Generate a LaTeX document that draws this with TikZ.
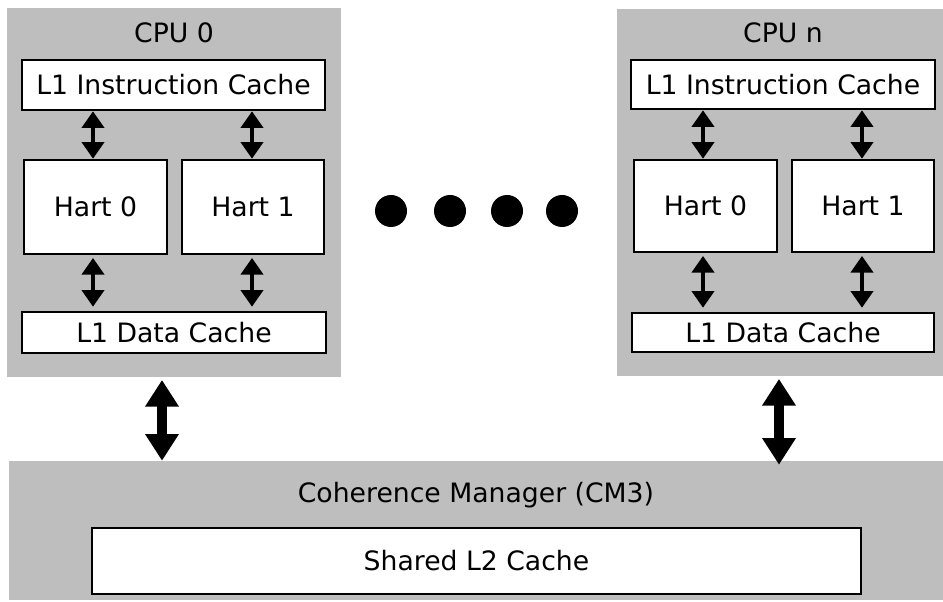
\documentclass[tikz,border=0pt]{standalone}
\usepackage{fontspec}
\setmainfont{DejaVu Sans}
\usetikzlibrary{arrows.meta}
\definecolor{cpugray}{RGB}{190,190,190}
\begin{document}
\begin{tikzpicture}[x=0.75pt,y=-0.75pt,
  graybox/.style={fill=cpugray,draw=none,inner sep=0pt},
  wbox/.style={fill=white,draw=black,line width=1.9pt,inner sep=0pt,
    font=\fontsize{20pt}{24pt}\selectfont},
  lbl/.style={inner sep=0pt,font=\fontsize{20pt}{24pt}\selectfont},
  smallarrow/.style={line width=3pt,
    {Triangle[width=16.5pt,length=12.5pt]}-{Triangle[width=16.5pt,length=12.5pt]}},
  bigarrow/.style={line width=7.5pt,
    {Triangle[width=24pt,length=20pt]}-{Triangle[width=24pt,length=20pt]}},
  dotnode/.style={fill=black,draw=none,circle,inner sep=0pt,minimum size=24pt}
]
\useasboundingbox (0,0) rectangle (943,602);

% CPU 0
\node[graybox,minimum width=250.5pt,minimum height=276.75pt] (cpu0) at (174,192.5) {};
\node[lbl] (cpu0lbl) at (174,33) {CPU 0};
\node[wbox,minimum width=227.25pt,minimum height=37.5pt] (i0) at (173.5,85) {L1 Instruction Cache};
\node[wbox,minimum width=107.25pt,minimum height=70.5pt] (h00) at (95.5,207) {Hart 0};
\node[wbox,minimum width=106.5pt,minimum height=70.5pt] (h01) at (253,207) {Hart 1};
\node[wbox,minimum width=228pt,minimum height=30.75pt] (d0) at (174,332.5) {L1 Data Cache};

% CPU n
\node[graybox,minimum width=244.5pt,minimum height=275.25pt] (cpun) at (780,192.5) {};
\node[lbl] (cpunlbl) at (783,33) {CPU n};
\node[wbox,minimum width=228pt,minimum height=36.75pt] (in) at (783,84.5) {L1 Instruction Cache};
\node[wbox,minimum width=107.25pt,minimum height=69pt] (hn0) at (705.5,206) {Hart 0};
\node[wbox,minimum width=106.5pt,minimum height=69pt] (hn1) at (863,206) {Hart 1};
\node[wbox,minimum width=226.5pt,minimum height=29.25pt] (dn) at (783,332.5) {L1 Data Cache};

% Coherence manager
\node[graybox,minimum width=700.5pt,minimum height=104.25pt] (cm) at (476,530.5) {};
\node[lbl] (cmlbl) at (476,495) {Coherence Manager (CM3)};
\node[wbox,minimum width=576.75pt,minimum height=49.5pt] (l2) at (476.5,561) {Shared L2 Cache};

% dots
\node[dotnode] (dot1) at (391,211) {};
\node[dotnode] (dot2) at (450,211) {};
\node[dotnode] (dot3) at (507,211) {};
\node[dotnode] (dot4) at (562,211) {};

% arrows CPU 0
\coordinate (a00) at (93,0);
\coordinate (a01) at (252,0);
\draw[smallarrow] (i0.south -| a00) -- (h00.north -| a00);
\draw[smallarrow] (i0.south -| a01) -- (h01.north -| a01);
\draw[smallarrow,shorten <=2pt,shorten >=3pt] (h00.south -| a00) -- (d0.north -| a00);
\draw[smallarrow,shorten <=2pt,shorten >=3pt] (h01.south -| a01) -- (d0.north -| a01);

% arrows CPU n
\coordinate (an0) at (703,0);
\coordinate (an1) at (862,0);
\draw[smallarrow] (in.south -| an0) -- (hn0.north -| an0);
\draw[smallarrow] (in.south -| an1) -- (hn1.north -| an1);
\draw[smallarrow,shorten <=2pt,shorten >=3pt] (hn0.south -| an0) -- (dn.north -| an0);
\draw[smallarrow,shorten <=2pt,shorten >=3pt] (hn1.south -| an1) -- (dn.north -| an1);

% big arrows
\coordinate (b0) at (162,0);
\coordinate (bn) at (779,0);
\draw[bigarrow,shorten <=2pt] (cpu0.south -| b0) -- (cm.north -| b0);
\draw[bigarrow,shorten <=2pt,shorten >=-3pt] (cpun.south -| bn) -- (cm.north -| bn);
\end{tikzpicture}
\end{document}
